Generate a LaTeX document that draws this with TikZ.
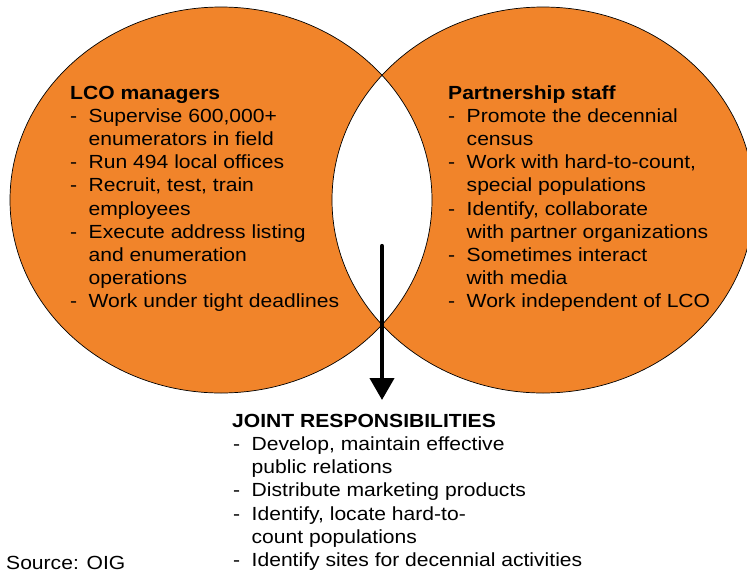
\documentclass[tikz,border=0pt]{standalone}
\usepackage{fontspec}
\setmainfont{Liberation Sans}[FakeStretch=1.11]
\usetikzlibrary{arrows.meta}
\definecolor{venn}{RGB}{241,132,42}
\newcommand{\txtsz}{\fontsize{19}{23.2}\selectfont}
\newcommand{\dsh}{\makebox[18.5pt][l]{-}}
\begin{document}
\begin{tikzpicture}[x=1pt,y=-1pt,
  txt/.style={anchor=base west,inner sep=0pt,font=\txtsz},
  ttl/.style={txt,font=\txtsz\bfseries},
  vennfill/.style={fill=venn,even odd rule},
  vennline/.style={draw=black,line width=0.7pt},
  bigarrow/.style={line width=4.2pt,line cap=round,-{Triangle[width=24pt,length=22pt]}}]
\path[use as bounding box,clip] (0,0) rectangle (747,574);
\fill[white] (0,0) rectangle (747,574);
% Venn circles
\path[vennfill] (221,200) ellipse [x radius=211,y radius=193]
                (543,200) ellipse [x radius=211,y radius=193];
\path[vennline] (221,200) ellipse [x radius=211,y radius=193];
\path[vennline] (543,200) ellipse [x radius=211,y radius=193];
% arrow
\coordinate (atop) at (382,246);
\coordinate (atip) at (382,400);
\draw[bigarrow] (atop) -- (atip);
% left block
\node[ttl] (l0) at (70,99.0) {LCO managers};
\node[txt] (l1) at (70,122.2) {\dsh Supervise 600,000+};
\node[txt] (l2) at (88.5,145.4) {enumerators in field};
\node[txt] (l3) at (70,168.6) {\dsh Run 494 local offices};
\node[txt] (l4) at (70,191.8) {\dsh Recruit, test, train};
\node[txt] (l5) at (88.5,215.0) {employees};
\node[txt] (l6) at (70,238.2) {\dsh Execute address listing};
\node[txt] (l7) at (88.5,261.4) {and enumeration};
\node[txt] (l8) at (88.5,284.6) {operations};
\node[txt] (l9) at (70,307.8) {\dsh Work under tight deadlines};
% right block
\node[ttl] (r0) at (448,99.0) {Partnership staff};
\node[txt] (r1) at (448,122.2) {\dsh Promote the decennial};
\node[txt] (r2) at (466.5,145.4) {census};
\node[txt] (r3) at (448,168.6) {\dsh Work with hard-to-count,};
\node[txt] (r4) at (466.5,191.8) {special populations};
\node[txt] (r5) at (448,215.0) {\dsh Identify, collaborate};
\node[txt] (r6) at (466.5,238.2) {with partner organizations};
\node[txt] (r7) at (448,261.4) {\dsh Sometimes interact};
\node[txt] (r8) at (466.5,284.6) {with media};
\node[txt] (r9) at (448,307.8) {\dsh Work independent of LCO};
% bottom block
\node[ttl] (j0) at (232,427.0) {JOINT RESPONSIBILITIES};
\node[txt] (j1) at (233,450.3) {\dsh Develop, maintain effective};
\node[txt] (j2) at (251.5,473.6) {public relations};
\node[txt] (j3) at (233,496.9) {\dsh Distribute marketing products};
\node[txt] (j4) at (233,520.2) {\dsh Identify, locate hard-to-};
\node[txt] (j5) at (251.5,543.5) {count populations};
\node[txt] (j6) at (233,566.8) {\dsh Identify sites for decennial activities};
% source
\node[txt] (src) at (6,569) {Source: OIG};
\end{tikzpicture}
\end{document}
